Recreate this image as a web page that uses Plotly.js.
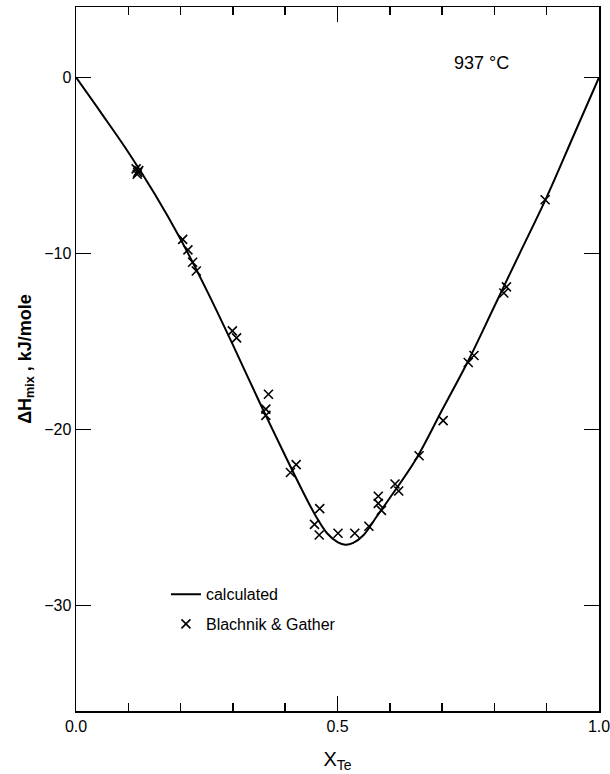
<!DOCTYPE html>
<html>
<head>
<meta charset="utf-8">
<script src="https://cdn.plot.ly/plotly-3.0.1.min.js"></script>
<style>html,body{margin:0;padding:0;background:#fff;}#chart{width:610px;height:774px;}</style>
</head>
<body>
<div id="chart"></div>
<script>
// calculated curve
const calcX = [0, 0.05, 0.1, 0.15, 0.2, 0.25, 0.3, 0.35, 0.4, 0.44, 0.46, 0.48, 0.5, 0.515, 0.53, 0.55, 0.575, 0.6, 0.65, 0.7, 0.75, 0.8, 0.85, 0.9, 0.95, 1.0];
const calcY = [0, -2.1, -4.25, -6.6, -9.2, -12.1, -15.2, -18.4, -21.5, -23.9, -25.0, -25.9, -26.4, -26.55, -26.45, -26.0, -24.95, -23.9, -21.7, -18.9, -16.1, -13.0, -9.9, -6.8, -3.4, 0];
// Blachnik & Gather data
const expX = [0.115, 0.118, 0.12, 0.117, 0.204, 0.214, 0.223, 0.23, 0.299, 0.307, 0.368, 0.363, 0.363, 0.421, 0.41, 0.466, 0.456, 0.465, 0.501, 0.533, 0.56, 0.578, 0.578, 0.584, 0.61, 0.617, 0.656, 0.702, 0.75, 0.761, 0.818, 0.823, 0.897];
const expY = [-5.2, -5.4, -5.3, -5.5, -9.2, -9.8, -10.5, -11.0, -14.4, -14.8, -18.0, -18.85, -19.2, -22.0, -22.45, -24.5, -25.4, -26.0, -25.9, -25.9, -25.5, -23.8, -24.2, -24.6, -23.1, -23.5, -21.5, -19.5, -16.2, -15.8, -12.25, -11.9, -6.95];
const xTicks = [0, 0.1, 0.2, 0.3, 0.4, 0.5, 0.6, 0.7, 0.8, 0.9, 1.0];
const xTickText = ['0.0', ' ', ' ', ' ', ' ', '0.5', ' ', ' ', ' ', ' ', '1.0'];
const xLongTicks = [0.5];
const yTicks = [0, -10, -20, -30];

const font = 'Liberation Sans, Arial, sans-serif';
const traces = [
  {x: calcX, y: calcY, mode: 'lines', name: 'calculated', legendgroup: 'a',
   line: {color: '#000', width: 2, shape: 'spline', smoothing: 1}},
  {x: expX, y: expY, mode: 'markers', name: 'Blachnik &amp; Gather', legendgroup: 'b',
   marker: {symbol: 'x-thin', size: 9, color: '#000', line: {color: '#000', width: 1.6}}},
  {x: calcX, y: calcY, xaxis: 'x2', mode: 'lines', showlegend: false, hoverinfo: 'skip',
   line: {color: 'rgba(0,0,0,0)', width: 0}}
];
const layout = {
  width: 610, height: 774,
  margin: {l: 76, r: 11, t: 7, b: 63},
  paper_bgcolor: '#fff', plot_bgcolor: '#fff',
  font: {family: font, color: '#000', size: 16},
  showlegend: true,
  legend: {x: 0.172, y: 0.19, xanchor: 'left', yanchor: 'top', bgcolor: 'rgba(0,0,0,0)',
           font: {size: 16, family: font}, traceorder: 'grouped', tracegroupgap: 6},
  xaxis: {range: [0, 1], tickmode: 'array', tickvals: xTicks, ticktext: xTickText, ticks: 'inside', ticklen: 8,
          tickwidth: 1.5, tickcolor: '#000', showline: true, linewidth: 1.5, linecolor: '#000',
          mirror: 'ticks', showgrid: false, zeroline: false, ticklabeloverflow: 'allow',
          tickfont: {size: 16},
          title: {text: 'X<sub>Te</sub>', font: {size: 20}, standoff: 18}},
  xaxis2: {range: [0, 1], overlaying: 'x', side: 'bottom', anchor: 'y', tickmode: 'array', tickvals: xLongTicks,
          ticks: 'inside', ticklen: 15, tickwidth: 1.5, tickcolor: '#000', showticklabels: false,
          showline: false, mirror: 'ticks', showgrid: false, zeroline: false},
  yaxis: {range: [-36, 4], tickvals: yTicks, ticks: 'inside', ticklen: 15, tickwidth: 1.5,
          tickcolor: '#000', showline: true, linewidth: 1.5, linecolor: '#000',
          mirror: 'ticks', showgrid: false, zeroline: false, tickfont: {size: 16},
          title: {text: '<b>ΔH<sub>mix</sub> , kJ/mole</b>', font: {size: 18}, standoff: 8}},
  annotations: [{x: 0.775, y: 0.83, xref: 'x', yref: 'y', text: '937 °C', showarrow: false,
                 font: {size: 18, family: font}}]
};
Plotly.newPlot('chart', traces, layout, {displayModeBar: false, staticPlot: true});
</script>
</body>
</html>
